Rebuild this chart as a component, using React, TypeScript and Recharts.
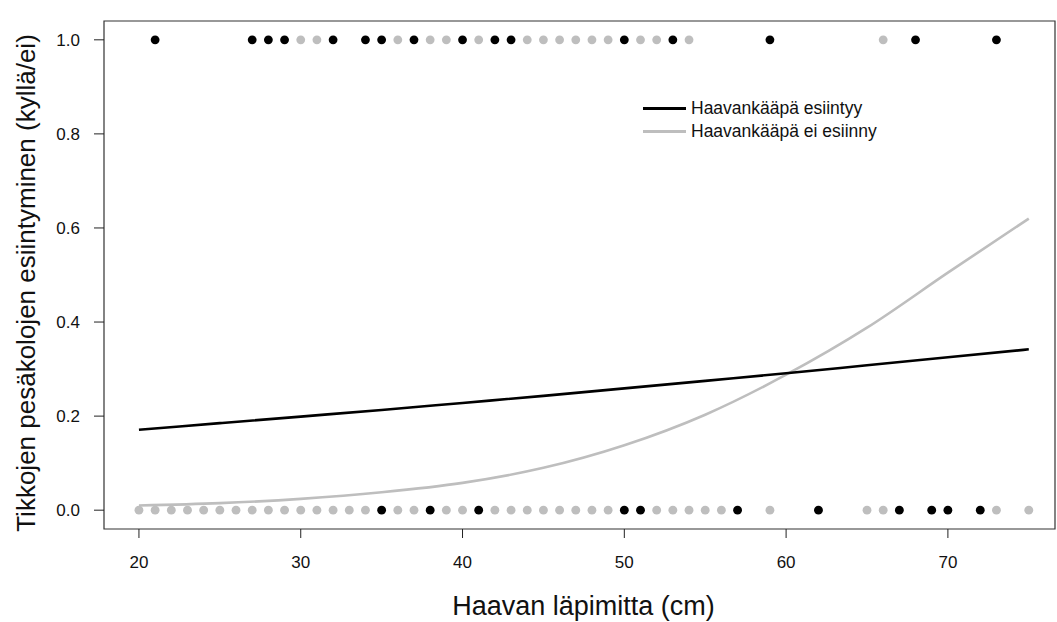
import {
  ComposedChart,
  Scatter,
  Line,
  XAxis,
  YAxis,
  ReferenceArea
} from 'recharts';

// Havainnot: läpimitta (cm), pesäkolo kyllä (1) / ei (0)
const presentYes = [21, 27, 28, 29, 32, 34, 35, 37, 40, 42, 43, 50, 53, 59, 68, 73];
const presentNo = [35, 38, 41, 50, 51, 57, 62, 67, 69, 70, 72];
const absentYes = [30, 31, 36, 38, 39, 41, 44, 45, 46, 47, 48, 49, 51, 52, 54, 66];
const absentNo = [
  20, 21, 22, 23, 24, 25, 26, 27, 28, 29, 30, 31, 32, 33, 34, 36, 37, 39, 40,
  42, 43, 44, 45, 46, 47, 48, 49, 52, 53, 54, 55, 56, 59, 65, 66, 73, 75
];

// Sovitetut käyrät (luettu kuvasta)
const fitDiameters = [20, 25, 30, 35, 40, 45, 50, 55, 60, 65, 70, 75];
const fitPresent = [0.171, 0.185, 0.199, 0.213, 0.228, 0.243, 0.259, 0.275, 0.291, 0.308, 0.325, 0.342];
const fitAbsent = [0.010, 0.015, 0.024, 0.038, 0.058, 0.090, 0.138, 0.203, 0.288, 0.388, 0.505, 0.620];

const xTicks = [20, 30, 40, 50, 60, 70];
const yTicks = [0, 0.2, 0.4, 0.6, 0.8, 1.0];

const legendItems = [
  { name: 'Haavankääpä esiintyy', color: '#000000' },
  { name: 'Haavankääpä ei esiinny', color: '#BEBEBE' }
];

const X_DOMAIN: [number, number] = [17.84, 76.62];
const Y_DOMAIN: [number, number] = [-0.04, 1.04];
const FONT = '"Liberation Sans", Arial, sans-serif';
const GREY = '#BEBEBE';

const toPoints = (xs: number[], y: number) => xs.map((x) => ({ x, y }));
const toCurve = (ys: number[]) => fitDiameters.map((x, i) => ({ x, y: ys[i] }));

const dot = (color: string) => (props: any) => (
  <circle cx={props.cx} cy={props.cy} r={4.4} fill={color} />
);

const LegendBox = () => (
  <div style={{ position: 'absolute', left: 643, top: 97, fontFamily: FONT, fontSize: 17.5, color: '#111' }}>
    {legendItems.map((item) => (
      <div key={item.name} style={{ display: 'flex', alignItems: 'center', height: 23 }}>
        <div style={{ width: 43, height: 2.5, background: item.color, marginRight: 5 }} />
        <span>{item.name}</span>
      </div>
    ))}
  </div>
);

export default function App() {
  return (
    <div style={{ position: 'absolute', left: 0, top: 0, width: 1057, height: 622, background: '#fff', fontFamily: FONT }}>
      <ComposedChart width={1057} height={622} margin={{ top: 21, right: 2, bottom: 0, left: 0 }}>
        <XAxis
          type="number"
          dataKey="x"
          domain={X_DOMAIN}
          allowDataOverflow
          ticks={xTicks}
          height={93}
          axisLine={false}
          tickSize={9}
          tickMargin={18}
          tickLine={{ stroke: '#222' }}
          tick={{ fontSize: 17, fill: '#111', fontFamily: FONT }}
          label={{ value: 'Haavan läpimitta (cm)', position: 'insideBottom', offset: 7, dx: 4, style: { fontSize: 27, fill: '#111', fontFamily: FONT } }}
        />
        <YAxis
          type="number"
          dataKey="y"
          domain={Y_DOMAIN}
          allowDataOverflow
          ticks={yTicks}
          width={104}
          axisLine={false}
          tickSize={10}
          tickMargin={14}
          tickLine={{ stroke: '#222' }}
          tickFormatter={(v: number) => v.toFixed(1)}
          tick={{ fontSize: 17, fill: '#111', fontFamily: FONT }}
          label={{
            content: (p: any) => {
              const vb = p.viewBox;
              const cx = vb.x + 26;
              const cy = vb.y + vb.height / 2 + 8;
              return (
                <text
                  x={cx}
                  y={cy}
                  transform={`rotate(-90 ${cx} ${cy})`}
                  textAnchor="middle"
                  dominantBaseline="central"
                  style={{ fontSize: 26, fill: '#111', fontFamily: FONT }}
                >
                  Tikkojen pesäkolojen esiintyminen (kyllä/ei)
                </text>
              );
            }
          }}
        />
        <ReferenceArea
          x1={X_DOMAIN[0]}
          x2={X_DOMAIN[1]}
          y1={Y_DOMAIN[0]}
          y2={Y_DOMAIN[1]}
          fill="none"
          stroke="#333"
          strokeWidth={1.2}
          ifOverflow="visible"
        />
        <Scatter data={toPoints(absentNo, 0)} dataKey="y" shape={dot(GREY)} isAnimationActive={false} />
        <Scatter data={toPoints(absentYes, 1)} dataKey="y" shape={dot(GREY)} isAnimationActive={false} />
        <Scatter data={toPoints(presentNo, 0)} dataKey="y" shape={dot('#000')} isAnimationActive={false} />
        <Scatter data={toPoints(presentYes, 1)} dataKey="y" shape={dot('#000')} isAnimationActive={false} />
        <Line
          data={toCurve(fitAbsent)}
          dataKey="y"
          type="monotone"
          stroke={GREY}
          strokeWidth={2.6}
          dot={false}
          isAnimationActive={false}
        />
        <Line
          data={toCurve(fitPresent)}
          dataKey="y"
          type="monotone"
          stroke="#000"
          strokeWidth={2.6}
          dot={false}
          isAnimationActive={false}
        />
      </ComposedChart>
      <LegendBox />
    </div>
  );
}
